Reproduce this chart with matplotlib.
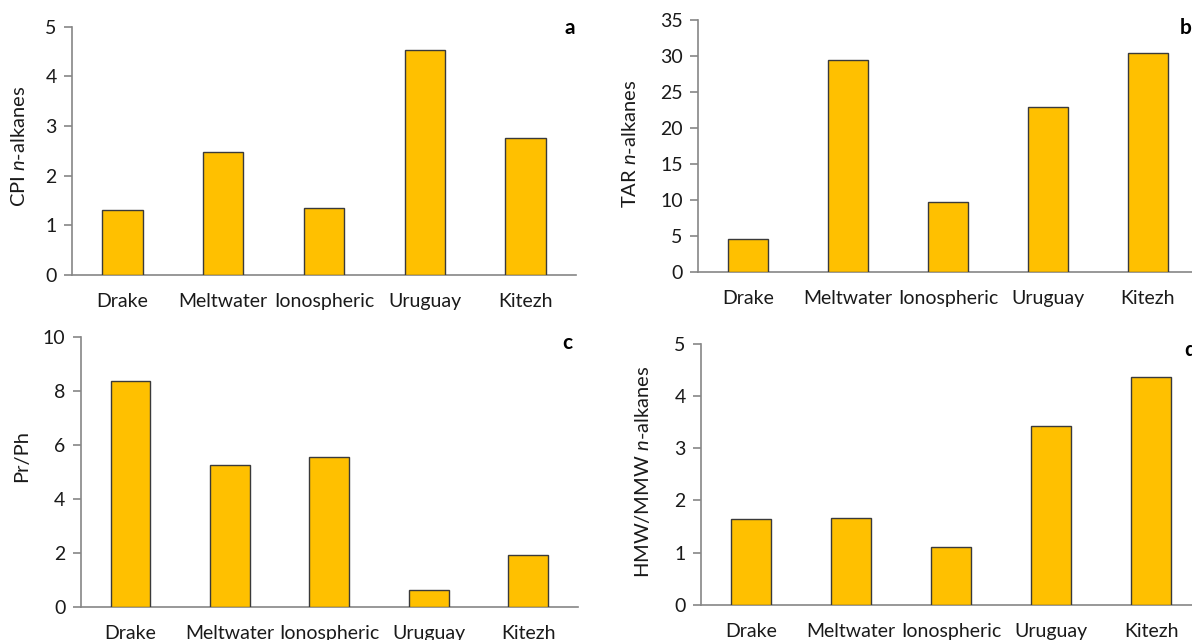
import matplotlib
matplotlib.use("Agg")
import matplotlib.pyplot as plt

plt.rcParams["font.family"] = ["Lato", "DejaVu Sans"]
plt.rcParams["mathtext.fontset"] = "custom"
plt.rcParams["mathtext.rm"] = "Lato"
plt.rcParams["mathtext.it"] = "Lato:italic"

lakes = ["Drake", "Meltwater", "Ionospheric", "Uruguay", "Kitezh"]
cpi = [1.30, 2.48, 1.35, 4.54, 2.76]
tar = [4.6, 29.4, 9.7, 22.95, 30.45]
pr_ph = [8.36, 5.26, 5.54, 0.62, 1.90]
hmw_mmw = [1.64, 1.66, 1.10, 3.43, 4.37]

W, H = 1192, 640
BAR = "#FFC000"
EDGE = "#3a3a3a"
AXIS = "#868686"
TXT = "#1a1a1a"

fig = plt.figure(figsize=(W / 100, H / 100), dpi=100)


def px_axes(left, right, bottom, top):
    return fig.add_axes([left / W, 1 - bottom / H, (right - left) / W, (bottom - top) / H])


panels = [
    # values, ymax, ystep, axes box (l, r, bottom, top), ylabel, ylabel pos, letter, letter pos
    (cpi, 5, 1, (72, 576, 275, 26.7), r"CPI $\it{n}$-alkanes", (19, 146), "a", (570, 28)),
    (tar, 35, 5, (698, 1198, 272, 20), r"TAR $\it{n}$-alkanes", (630, 144), "b", (1186, 28)),
    (pr_ph, 10, 2, (80.7, 578, 606.7, 336.7), "Pr/Ph", (22, 456), "c", (567, 343)),
    (hmw_mmw, 5, 1, (701, 1201, 604.7, 344), r"HMW/MMW $\it{n}$-alkanes", (642, 472), "d", (1190, 350)),
]

for vals, ymax, ystep, box, ylab, ylab_pos, letter, letter_pos in panels:
    ax = px_axes(*box)
    x = range(len(lakes))
    ax.bar(x, vals, width=0.4, color=BAR, edgecolor=EDGE, linewidth=1.0, zorder=3)
    ax.set_xlim(-0.5, len(lakes) - 0.5)
    ax.set_ylim(0, ymax)
    ax.set_yticks(range(0, ymax + 1, ystep))
    ax.set_xticks(list(x))
    ax.set_xticklabels(lakes)
    for s in ["top", "right"]:
        ax.spines[s].set_visible(False)
    for s in ["left", "bottom"]:
        ax.spines[s].set_color(AXIS)
        ax.spines[s].set_linewidth(1.2)
    ax.tick_params(axis="y", direction="out", length=6, width=1.2, color=AXIS,
                   labelsize=14, pad=5, labelcolor=TXT)
    ax.tick_params(axis="x", length=0, labelsize=14, pad=13, labelcolor=TXT)
    fig.text(ylab_pos[0] / W, 1 - ylab_pos[1] / H, ylab, rotation=90,
             ha="center", va="center", fontsize=14.5, color=TXT)
    fig.text(letter_pos[0] / W, 1 - letter_pos[1] / H, letter, ha="center",
             va="center", fontsize=15, fontweight="bold", color="black")

fig.savefig("out.png", dpi=100)
